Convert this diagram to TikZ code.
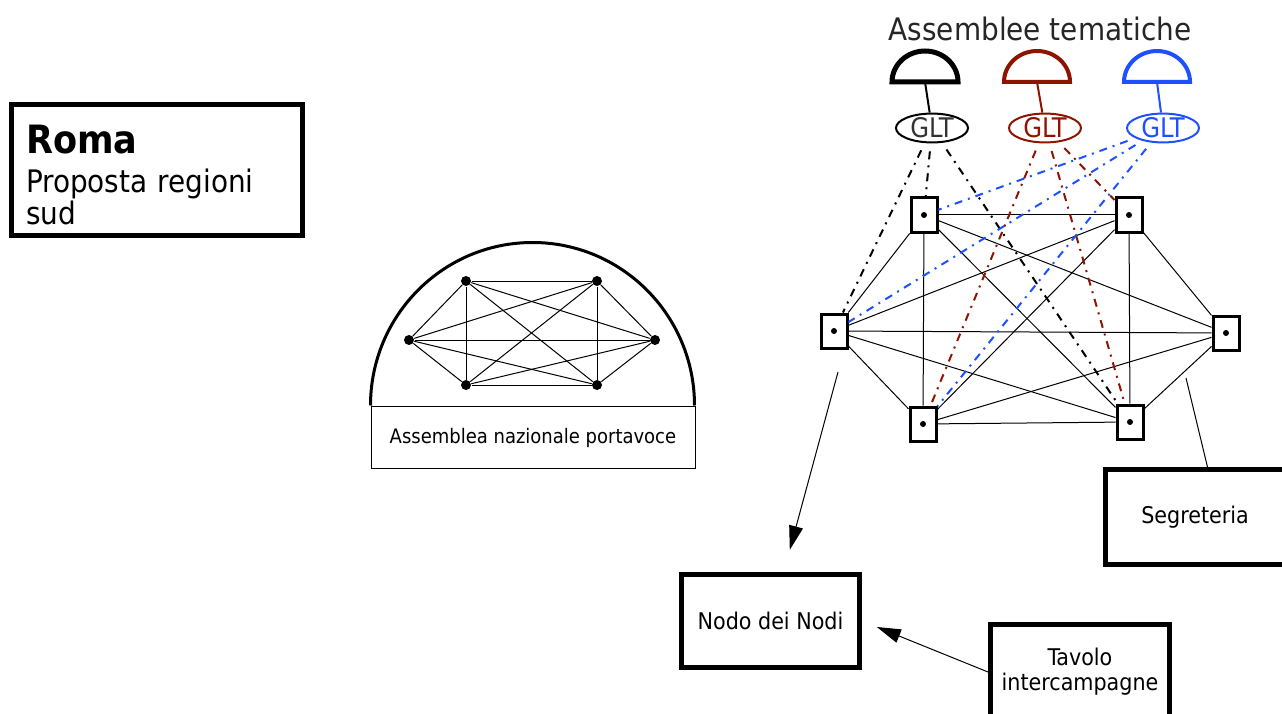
\documentclass[tikz,border=0pt]{standalone}
\usepackage{fontspec}
\setmainfont{DejaVu Sans Condensed}
\usetikzlibrary{shapes.geometric,arrows.meta}
\definecolor{rosso}{RGB}{140,20,0}
\definecolor{blu}{RGB}{30,80,255}
\tikzstyle{nodo}=[draw=black,line width=3pt,minimum width=26pt,minimum height=34pt,inner sep=0pt,
  path picture={\fill[black] (path picture bounding box.center) circle (3pt);}]
\tikzstyle{punto}=[circle,fill=black,inner sep=0pt,minimum size=10pt]
\tikzstyle{riquadro}=[draw=black,line width=5pt,inner sep=0pt,align=center,font=\fontsize{23}{25}\selectfont]
\tikzstyle{glt}=[ellipse,draw,line width=2pt,minimum width=72pt,minimum height=26pt,inner sep=0pt,
  font=\fontsize{27}{27}\selectfont]
\tikzstyle{tratto}=[line width=2pt,dash pattern=on 8pt off 6pt on 2pt off 6pt,shorten <=8pt]

\begin{document}
\begin{tikzpicture}[x=1pt,y=-1pt,>={Triangle[length=24pt,width=14pt]},line width=1pt]
\useasboundingbox (0,0) rectangle (1282,714);

% titolo
\node[riquadro,minimum width=291pt,minimum height=130pt,align=left,text width=261pt,
  font=\fontsize{31}{32}\selectfont] (R) at (156.5,170)
  {{\fontsize{39}{40}\selectfont\bfseries\rule{0pt}{38pt}Roma}\\[7pt]Proposta regioni\\sud};

% assemblea nazionale
\node[draw,line width=1pt,minimum width=324pt,minimum height=62pt,inner sep=0pt,text depth=2pt,
  font=\fontsize{20}{24}\selectfont] (ANP) at (533,437) {Assemblea nazionale portavoce};
\draw[line width=3pt] (ANP.north west) arc[start angle=180,end angle=360,x radius=162,y radius=163];

\node[punto] (a) at (466,281) {};
\node[punto] (b) at (597,281) {};
\node[punto] (c) at (655,340) {};
\node[punto] (d) at (597,385) {};
\node[punto] (e) at (466,385) {};
\node[punto] (f) at (409,340) {};
\path
(a) edge (b) edge (c) edge (d) edge (e) edge (f)
(b) edge (c) edge (d) edge (e) edge (f)
(c) edge (d) edge (e) edge (f)
(d) edge (e) edge (f)
(e) edge (f);

% rete dei nodi
\node[nodo] (A) at (924,215) {};
\node[nodo] (B) at (1129,215) {};
\node[nodo] (C) at (1226,333) {};
\node[nodo] (D) at (1130,422) {};
\node[nodo] (E) at (923,424) {};
\node[nodo] (F) at (834,331) {};
\path
(A) edge (B) edge (C) edge (D) edge (E) edge (F)
(B) edge (C) edge (D) edge (E) edge (F)
(C) edge (D) edge (E) edge (F)
(D) edge (E) edge (F)
(E) edge (F);

% assemblee tematiche
\node[font=\fontsize{31}{31}\selectfont,text=black!85] (AT) at (1040,29) {Assemblee tematiche};
\coordinate (S1) at (925,82);
\coordinate (S2) at (1037,82);
\coordinate (S3) at (1157,82);
\draw[line width=5pt] (S1) ++(-33,0) arc[start angle=180,end angle=360,x radius=33,y radius=31] -- cycle;
\draw[line width=4pt,rosso] (S2) ++(-33,0) arc[start angle=180,end angle=360,x radius=33,y radius=31] -- cycle;
\draw[line width=4pt,blu] (S3) ++(-33,0) arc[start angle=180,end angle=360,x radius=33,y radius=31] -- cycle;

\node[glt,text=black!80] (G1) at (932,128) {GLT};
\node[glt,rosso] (G2) at (1045,128) {GLT};
\node[glt,blu] (G3) at (1163,128) {GLT};
\draw[line width=2pt] (S1) -- (G1);
\draw[line width=2pt,rosso] (S2) -- (G2);
\draw[line width=2pt,blu] (S3) -- (G3);

\draw[tratto] (G1) edge (F) edge (A) edge (D);
\draw[tratto,rosso] (G2) edge (E) edge (D) edge (B);
\draw[tratto,blu] (G3) edge (A) edge (F) edge (E);

% riquadri in basso
\node[riquadro,minimum width=178pt,minimum height=93pt] (NN) at (770.5,621) {Nodo dei Nodi};
\node[riquadro,minimum width=179pt,minimum height=95pt] (SG) at (1195,517) {Segreteria};
\node[riquadro,minimum width=179pt,minimum height=95pt] (TV) at (1080,672) {Tavolo\\intercampagne};

\coordinate (P) at (838,372);
\coordinate (Q) at (1186,378);
\draw[->,shorten >=23pt] (P) -- (NN);
\draw[->,shorten >=16pt] (TV.west) -- (NN.east);
\draw (Q) -- (SG.76);

\end{tikzpicture}
\end{document}
